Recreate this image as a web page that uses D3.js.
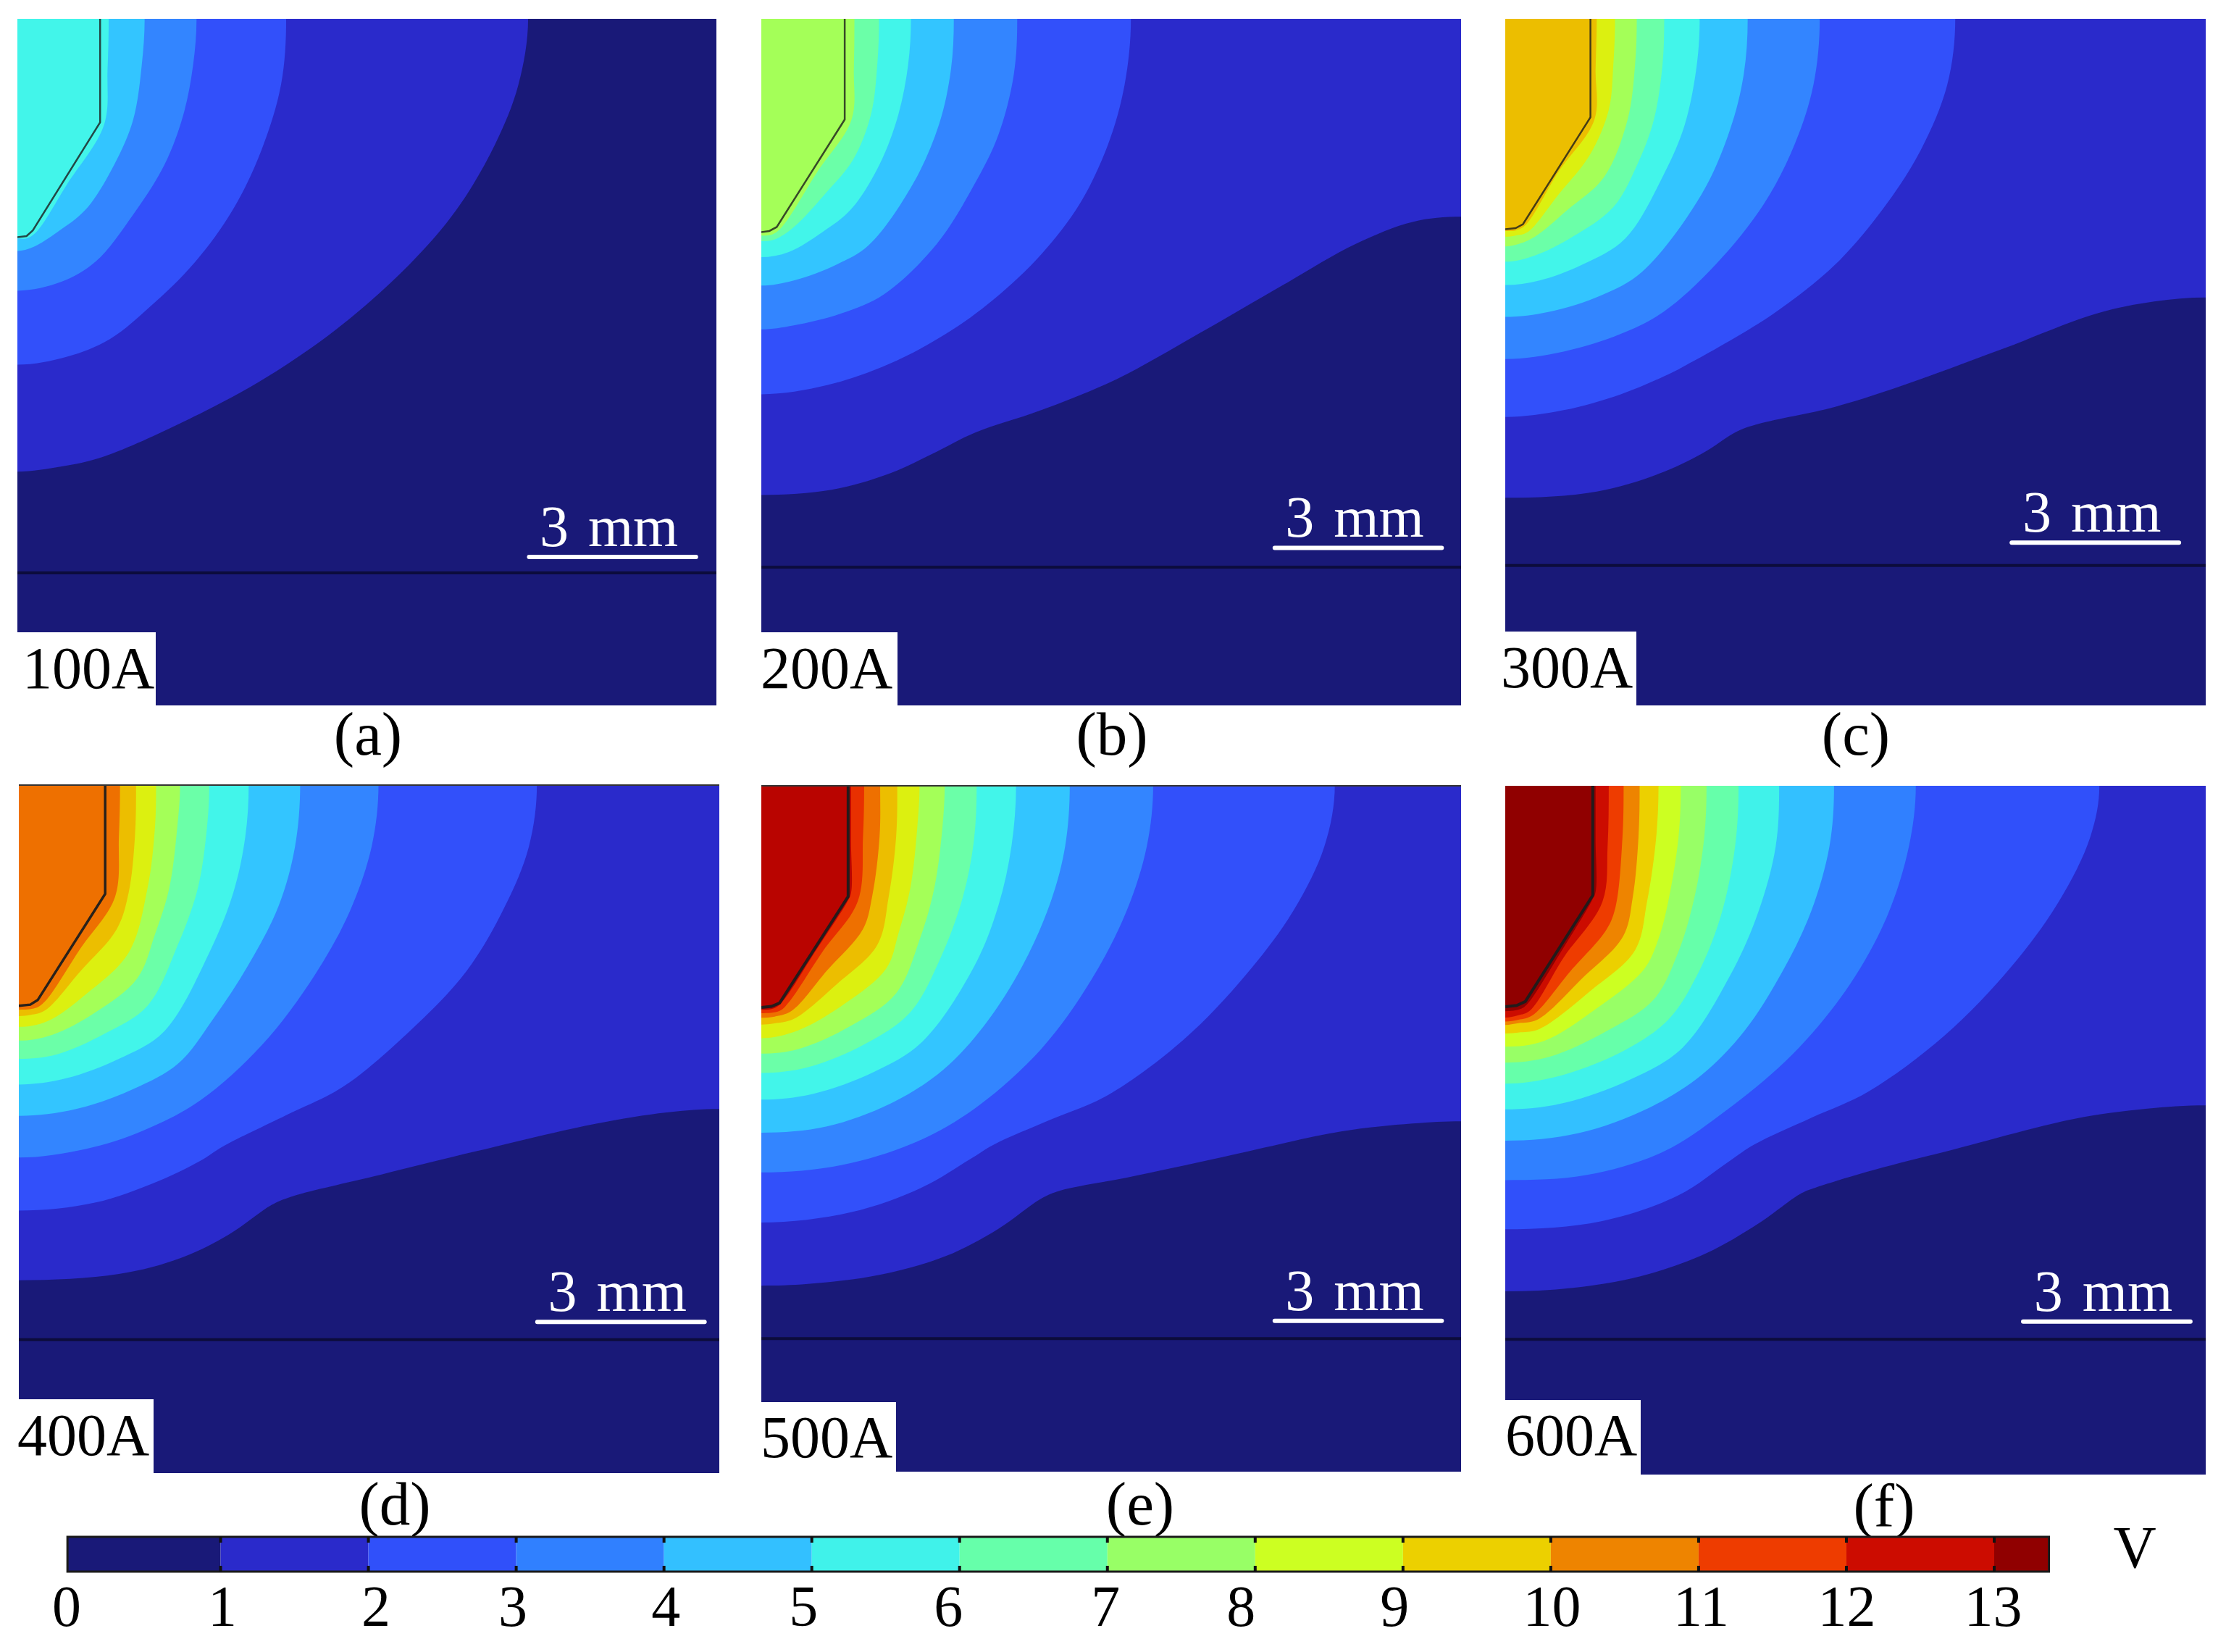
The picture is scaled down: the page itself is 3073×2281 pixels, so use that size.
<!DOCTYPE html>
<html>
<head>
<meta charset="utf-8">
<script src="https://cdnjs.cloudflare.com/ajax/libs/d3/7.8.5/d3.min.js"></script>
<style>
    body { margin: 0; background: #fff; }
    text { font-family: "Liberation Serif", serif; }
</style>
</head>
<body>
<div id="chart"></div>
<script>
// all contours in mm from the top left corner of the panel, 1 V contour first
var currents = ["100A", "200A", "300A", "400A", "500A", "600A"];
var captions = ["(a)", "(b)", "(c)", "(d)", "(e)", "(f)"];
var domainWidth = 12.25;
var domainHeight = 12.07;
var scaleBarMm = 3;
var barStartX = [8.93, 8.95, 8.82, 9.03, 8.95, 9.02];
var barDepth = [9.46, 9.30, 9.21, 9.42, 9.42, 9.39];
var interfaceDepth = [9.74, 9.64, 9.61, 9.73, 9.73, 9.70];

var electrodes = [
    [[1.45, 0], [1.45, 1.82], [0.27, 3.72], [0.16, 3.82], [0, 3.84]],
    [[1.46, 0], [1.46, 1.77], [0.27, 3.66], [0.14, 3.73], [0, 3.75]],
    [[1.49, 0], [1.49, 1.73], [0.31, 3.61], [0.18, 3.68], [0, 3.70]],
    [[1.51, 0], [1.51, 1.92], [0.33, 3.78], [0.2, 3.86], [0, 3.88]],
    [[1.52, 0], [1.52, 1.96], [0.32, 3.83], [0.18, 3.89], [0, 3.91]],
    [[1.53, 0], [1.53, 1.92], [0.35, 3.78], [0.2, 3.85], [0, 3.87]]
];

var contours100A = [
    [[8.95,0],[8.78,1.16],[8.37,2.21],[7.70,3.35],[6.87,4.32],[5.70,5.37],[4.53,6.20],[3.28,6.90],[1.53,7.69],[0.78,7.87],[0,7.96]],
    [[4.71,0],[4.62,1.16],[4.28,2.30],[3.78,3.35],[3.12,4.27],[2.37,5.02],[1.62,5.63],[0.87,5.94],[0,6.08]],
    [[3.14,0],[3.08,0.81],[2.91,1.68],[2.58,2.56],[2.03,3.44],[1.37,4.27],[0.78,4.62],[0,4.78]],
    [[2.23,0],[2.18,0.81],[2.03,1.77],[1.70,2.56],[1.20,3.35],[0.70,3.75],[0.28,4.01],[0,4.08]],
    [[1.60,0],[1.58,0.89],[1.52,1.86],[0.87,2.91],[0.33,3.75],[0.16,3.86],[0,3.86]]
];

var contours200A = [
    [[12.25,3.48],[11.40,3.57],[10.40,3.96],[9.15,4.67],[7.65,5.54],[6.23,6.33],[4.90,6.88],[3.73,7.28],[3.07,7.61],[2.23,8.00],[1.23,8.28],[0,8.37]],
    [[6.47,0],[6.36,1.16],[6.07,2.21],[5.57,3.26],[4.90,4.14],[4.07,4.93],[3.23,5.54],[2.23,6.07],[1.15,6.44],[0,6.60]],
    [[4.48,0],[4.42,0.98],[4.15,2.04],[3.73,2.91],[3.07,3.96],[2.15,4.84],[1.40,5.18],[0.57,5.39],[0,5.46]],
    [[3.37,0],[3.32,0.89],[3.11,1.86],[2.65,2.91],[1.88,3.98],[1.32,4.32],[0.57,4.60],[0,4.69]],
    [[2.62,0],[2.57,0.81],[2.40,1.68],[2.07,2.56],[1.57,3.35],[1.07,3.75],[0.48,4.10],[0,4.19]],
    [[2.06,0],[2.03,0.81],[1.92,1.68],[1.61,2.47],[1.15,3.04],[0.57,3.66],[0.23,3.88],[0,3.91]],
    [[1.63,0],[1.62,0.89],[1.58,1.77],[0.98,2.69],[0.36,3.66],[0.19,3.79],[0,3.81]]
];

var contours300A = [
    [[12.25,4.90],[11.35,4.97],[10.35,5.18],[8.68,5.81],[7.02,6.42],[5.77,6.82],[4.43,7.12],[4.06,7.25],[3.43,7.65],[2.68,8.00],[1.60,8.31],[0,8.42]],
    [[7.87,0],[7.73,1.16],[7.27,2.30],[6.60,3.35],[5.77,4.32],[4.68,5.19],[3.27,6.03],[2.85,6.25],[2.02,6.60],[1.02,6.88],[0,7.00]],
    [[5.50,0],[5.39,1.16],[5.06,2.21],[4.52,3.26],[3.68,4.32],[2.77,5.15],[2.02,5.54],[1.02,5.85],[0,5.98]],
    [[4.24,0],[4.17,0.98],[3.93,1.95],[3.43,3.09],[2.39,4.45],[1.68,4.86],[0.77,5.15],[0,5.24]],
    [[3.40,0],[3.35,0.81],[3.14,1.86],[2.77,2.74],[2.10,3.86],[1.35,4.32],[0.60,4.60],[0,4.68]],
    [[2.78,0],[2.75,0.81],[2.60,1.77],[2.31,2.56],[1.89,3.31],[1.18,3.83],[0.52,4.16],[0,4.27]],
    [[2.30,0],[2.27,0.81],[2.14,1.77],[1.73,2.78],[1.10,3.35],[0.52,3.83],[0.23,3.96],[0,4.00]],
    [[1.92,0],[1.89,0.81],[1.81,1.60],[1.48,2.39],[0.93,3.09],[0.39,3.75],[0.18,3.81],[0,3.83]],
    [[1.60,0],[1.58,0.89],[1.56,1.77],[0.93,2.69],[0.35,3.63],[0.18,3.72],[0,3.73]]
];

var contours400A = [
    [[12.25,5.69],[11.33,5.75],[10.08,5.95],[8.00,6.43],[6.33,6.84],[4.75,7.23],[4.42,7.37],[3.67,7.89],[2.83,8.30],[1.75,8.58],[0,8.69]],
    [[9.06,0],[8.92,1.09],[8.50,2.14],[7.83,3.27],[6.83,4.33],[5.67,5.30],[4.67,5.80],[3.58,6.34],[3.17,6.60],[2.42,6.96],[1.33,7.33],[0,7.47]],
    [[6.29,0],[6.17,1.09],[5.79,2.22],[5.17,3.35],[4.25,4.57],[3.17,5.54],[2.17,6.07],[1.17,6.39],[0,6.54]],
    [[4.92,0],[4.83,1.09],[4.54,2.14],[4.00,3.19],[3.42,4.08],[2.79,4.89],[2.00,5.34],[1.00,5.69],[0,5.81]],
    [[4.02,0],[3.96,0.92],[3.75,1.90],[3.33,2.95],[2.54,4.33],[1.75,4.81],[0.83,5.15],[0,5.26]],
    [[3.33,0],[3.29,0.76],[3.13,1.82],[2.79,2.79],[2.25,3.88],[1.50,4.37],[0.67,4.73],[0,4.81]],
    [[2.82,0],[2.77,0.76],[2.63,1.82],[2.38,2.63],[2.07,3.40],[1.33,4.00],[0.58,4.39],[0,4.49]],
    [[2.40,0],[2.38,0.76],[2.25,1.82],[1.92,2.95],[1.17,3.68],[0.50,4.15],[0,4.25]],
    [[2.05,0],[2.03,0.92],[1.92,1.90],[1.71,2.54],[1.08,3.27],[0.46,3.96],[0.21,4.04],[0,4.06]],
    [[1.77,0],[1.75,0.92],[1.68,1.98],[1.08,2.87],[0.46,3.80],[0.29,3.92],[0,3.95]]
];

var contours500A = [
    [[12.25,5.91],[11.40,5.95],[10.15,6.09],[8.07,6.54],[6.40,6.90],[5.23,7.13],[4.90,7.27],[4.15,7.80],[3.23,8.28],[2.07,8.61],[0.82,8.77],[0,8.80]],
    [[10.04,0],[9.86,1.07],[9.32,2.20],[8.48,3.34],[7.40,4.47],[6.07,5.45],[5.07,5.88],[4.07,6.32],[3.65,6.58],[2.82,7.07],[1.57,7.51],[0,7.69]],
    [[6.86,0],[6.75,1.07],[6.40,2.20],[5.78,3.42],[4.90,4.64],[3.73,5.69],[2.65,6.30],[1.40,6.68],[0,6.81]],
    [[5.40,0],[5.32,1.07],[5.07,2.04],[4.57,3.18],[3.90,4.23],[3.19,5.00],[2.32,5.57],[1.15,6.00],[0,6.11]],
    [[4.46,0],[4.38,1.07],[4.15,2.12],[3.73,3.18],[2.82,4.51],[1.98,5.04],[0.90,5.43],[0,5.53]],
    [[3.77,0],[3.72,0.99],[3.53,1.96],[3.15,3.01],[2.61,3.99],[1.82,4.55],[0.82,4.96],[0,5.06]],
    [[3.21,0],[3.17,0.75],[3.03,1.80],[2.78,2.69],[2.36,3.66],[1.57,4.23],[0.65,4.64],[0,4.72]],
    [[2.77,0],[2.73,0.75],[2.61,1.80],[2.40,2.61],[2.19,3.22],[1.48,3.83],[0.65,4.31],[0,4.45]],
    [[2.38,0],[2.36,0.91],[2.23,1.96],[2.03,2.81],[1.32,3.50],[0.57,4.11],[0.23,4.19],[0,4.21]],
    [[2.08,0],[2.07,0.91],[1.94,1.96],[1.78,2.53],[1.15,3.26],[0.53,3.97],[0.23,4.07],[0,4.09]],
    [[1.80,0],[1.78,0.91],[1.69,2.04],[1.07,2.93],[0.48,3.82],[0.32,3.97],[0,4.01]],
    [[1.57,0],[1.57,0.98],[1.57,1.90],[1.50,2.06],[0.96,2.90],[0.36,3.82],[0.23,3.92],[0,3.95]]
];

var contours600A = [
    [[12.25,5.60],[11.20,5.66],[9.93,5.84],[7.85,6.37],[6.60,6.69],[5.43,7.04],[5.18,7.14],[4.43,7.67],[3.52,8.19],[2.35,8.60],[1.18,8.80],[0,8.86]],
    [[10.39,0],[10.23,0.90],[9.68,2.03],[8.85,3.17],[7.68,4.38],[6.35,5.36],[5.35,5.82],[4.35,6.29],[3.93,6.57],[3.02,7.18],[1.68,7.63],[0,7.77]],
    [[7.18,0],[7.06,1.06],[6.68,2.28],[6.02,3.49],[5.02,4.71],[3.77,5.76],[2.77,6.41],[1.43,6.82],[0,6.91]],
    [[5.75,0],[5.67,1.06],[5.35,2.20],[4.85,3.25],[4.18,4.30],[3.43,5.07],[2.52,5.64],[1.27,6.09],[0,6.22]],
    [[4.79,0],[4.73,1.06],[4.43,2.20],[3.93,3.33],[3.10,4.59],[2.18,5.15],[1.02,5.56],[0,5.67]],
    [[4.08,0],[4.02,1.06],[3.77,2.28],[3.35,3.33],[2.85,4.10],[2.02,4.67],[0.85,5.11],[0,5.22]],
    [[3.52,0],[3.48,0.90],[3.31,1.95],[3.02,2.93],[2.60,3.74],[1.77,4.30],[0.77,4.75],[0,4.85]],
    [[3.07,0],[3.03,0.90],[2.85,2.03],[2.68,2.68],[2.43,3.21],[1.60,3.90],[0.68,4.47],[0,4.57]],
    [[2.68,0],[2.64,0.90],[2.48,2.03],[2.27,2.88],[1.52,3.57],[0.60,4.26],[0.27,4.32],[0,4.34]],
    [[2.35,0],[2.33,0.90],[2.23,1.95],[2.06,2.64],[1.35,3.37],[0.56,4.10],[0.23,4.16],[0,4.19]],
    [[2.07,0],[2.05,0.90],[1.93,2.12],[1.77,2.52],[1.14,3.25],[0.48,4.02],[0.23,4.10],[0,4.13]],
    [[1.81,0],[1.79,1.06],[1.70,2.03],[1.02,3.01],[0.43,3.94],[0.23,4.02],[0,4.06]],
    [[1.58,0],[1.58,0.95],[1.58,1.86],[1.51,2.02],[0.98,2.90],[0.39,3.82],[0.27,3.91],[0,3.95]]
];

var allContours = [contours100A, contours200A, contours300A, contours400A, contours500A, contours600A];

// colorbar
var barTicks = [0, 1, 2, 3, 4, 5, 6, 7, 8, 9, 10, 11, 12, 13];
var barMin = -0.036;
var barMax = 13.37;
var barUnit = "V";

var barColors = ["#191978", "#2a2acb", "#3050fa", "#3080ff", "#33c0ff", "#40f2ea", "#66ffaa",
    "#98ff66", "#ccff22", "#ecd000", "#ee8400", "#ee3c00", "#cc0c00", "#900000"];
var mapColors = ["#191978", "#2a2acb", "#3250fa", "#3385ff", "#33c5ff", "#42f5ea", "#6bffa8",
    "#a4ff58", "#dcf010", "#ecbe00", "#ee7000", "#e83000", "#b90400", "#8f0000"];

// where each panel sits in the page
var panelBoxes = [
    {x0: 24, x1: 989, y0: 26, y1: 974, labelW: 191, labelH: 101, labelX: 31, labelY: 950, capX: 508, capY: 1040},
    {x0: 1051, x1: 2017, y0: 26, y1: 974, labelW: 188, labelH: 101, labelX: 1050, labelY: 950, capX: 1535, capY: 1040},
    {x0: 2078, x1: 3045, y0: 26, y1: 974, labelW: 181, labelH: 102, labelX: 2072, labelY: 949, capX: 2562, capY: 1040},
    {x0: 26, x1: 993, y0: 1083, y1: 2034, labelW: 186, labelH: 102, labelX: 24, labelY: 2009, capX: 545, capY: 2103},
    {x0: 1051, x1: 2017, y0: 1084, y1: 2032, labelW: 186, labelH: 96, labelX: 1050, labelY: 2012, capX: 1574, capY: 2103},
    {x0: 2078, x1: 3045, y0: 1085, y1: 2036, labelW: 187, labelH: 103, labelX: 2078, labelY: 2009, capX: 2601, capY: 2105}
];
var barTop = 2122;
var barBottom = 2170;
var labelShift = [-9, 2, 10, -5, 2, -12, -16, -3, -20, -12, 1, 3, 0, -2];

var svg = d3.select("#chart").append("svg")
    .attr("width", 3073)
    .attr("height", 2281)
    .style("display", "block");

// mirror the contour over the panel edges so it meets them square, the clip cuts the extra off
var mirrored = function(d) {
    var first = d[0][0] == domainWidth ? [2 * domainWidth - d[1][0], d[1][1]] : [d[1][0], -d[1][1]];
    var n = d.length;
    var last = [-d[n - 2][0], d[n - 2][1]];
    return [first].concat(d, [last]);
};

var drawPanel = function(box, i) {
    var x = d3.scaleLinear().domain([0, domainWidth]).range([box.x0, box.x1]);
    var y = d3.scaleLinear().domain([0, domainHeight]).range([box.y0, box.y1]);
    var colors = i == 5 ? barColors : mapColors;

    var line = d3.line()
        .x(function(d) { return x(d[0]); })
        .y(function(d) { return y(d[1]); })
        .curve(d3.curveCatmullRom.alpha(0.5));

    var clipId = "clip" + i;
    svg.append("clipPath").attr("id", clipId).append("rect")
        .attr("x", box.x0)
        .attr("y", box.y0)
        .attr("width", box.x1 - box.x0)
        .attr("height", box.y1 - box.y0);

    var g = svg.append("g").attr("clip-path", "url(#" + clipId + ")");

    g.append("rect")
        .attr("x", box.x0)
        .attr("y", box.y0)
        .attr("width", box.x1 - box.x0)
        .attr("height", box.y1 - box.y0)
        .attr("fill", colors[0]);

    // biggest region first, each next one paints over it
    g.selectAll("path.band")
        .data(allContours[i])
        .enter()
        .append("path")
        .attr("class", "band")
        .attr("fill", function(d, k) { return colors[k + 1]; })
        .attr("d", function(d) {
            var m = mirrored(d);
            var outX = x(-2);
            var outY = y(-2);
            return line(m) + "L" + outX + "," + y(m[m.length - 1][1]) + "L" + outX + "," + outY +
                "L" + x(m[0][0]) + "," + outY + "Z";
        });

    // electrode outline
    g.append("path")
        .attr("fill", "none")
        .attr("stroke", "#1c1c1c")
        .attr("stroke-opacity", i < 3 ? 0.8 : 0.95)
        .attr("stroke-width", i < 3 ? 2.5 : (i == 3 ? 3.5 : 4))
        .attr("d", d3.line().x(function(d) { return x(d[0]); }).y(function(d) { return y(d[1]); })(electrodes[i]));

    // interface between the layers
    g.append("line")
        .attr("x1", box.x0)
        .attr("x2", box.x1)
        .attr("y1", y(interfaceDepth[i]))
        .attr("y2", y(interfaceDepth[i]))
        .attr("stroke", "#0c0c3c")
        .attr("stroke-width", 4);

    if (i > 2 && i < 5) {
        g.append("line")
            .attr("x1", box.x0)
            .attr("x2", box.x1)
            .attr("y1", box.y0 + 1)
            .attr("y2", box.y0 + 1)
            .attr("stroke", "#333")
            .attr("stroke-width", 2);
    }

    // scale bar
    svg.append("line")
        .attr("x1", x(barStartX[i]) + 3)
        .attr("x2", x(barStartX[i] + scaleBarMm) - 3)
        .attr("y1", y(barDepth[i]))
        .attr("y2", y(barDepth[i]))
        .attr("stroke", "#fff")
        .attr("stroke-width", 6)
        .attr("stroke-linecap", "round");

    svg.append("text")
        .attr("x", x(barStartX[i] + scaleBarMm / 2) - 5)
        .attr("y", y(barDepth[i]) - 15)
        .attr("text-anchor", "middle")
        .attr("font-size", 80)
        .attr("word-spacing", 7)
        .attr("fill", "#fff")
        .text("3 mm");

    // current label on white
    svg.append("rect")
        .attr("x", box.x0)
        .attr("y", box.y1 - box.labelH)
        .attr("width", box.labelW)
        .attr("height", box.labelH + 1)
        .attr("fill", "#fff");

    svg.append("text")
        .attr("x", box.labelX)
        .attr("y", box.labelY)
        .attr("font-size", 82)
        .attr("fill", "#000")
        .text(currents[i]);

    svg.append("text")
        .attr("x", box.capX)
        .attr("y", box.capY + 2)
        .attr("text-anchor", "middle")
        .attr("font-size", 85)
        .attr("fill", "#000")
        .text(captions[i]);
};

panelBoxes.forEach(drawPanel);

// colorbar
var c = d3.scaleLinear().domain([0, 13]).range([100.5, 2753]);

var levels = barTicks.map(function(t, k) {
    return {from: k == 0 ? barMin : t, to: k == barTicks.length - 1 ? barMax : t + 1, color: barColors[k]};
});

svg.selectAll("rect.level")
    .data(levels)
    .enter()
    .append("rect")
    .attr("class", "level")
    .attr("x", function(d) { return c(d.from); })
    .attr("y", barTop)
    .attr("width", function(d) { return c(d.to) - c(d.from); })
    .attr("height", barBottom - barTop)
    .attr("fill", function(d) { return d.color; });

svg.append("rect")
    .attr("x", c(barMin))
    .attr("y", barTop)
    .attr("width", c(barMax) - c(barMin))
    .attr("height", barBottom - barTop)
    .attr("fill", "none")
    .attr("stroke", "#1a1a1a")
    .attr("stroke-width", 3);

barTicks.slice(1).forEach(function(t) {
    [[barTop, barTop + 8], [barBottom - 8, barBottom]].forEach(function(s) {
        svg.append("line")
            .attr("x1", c(t))
            .attr("x2", c(t))
            .attr("y1", s[0])
            .attr("y2", s[1])
            .attr("stroke", "#111")
            .attr("stroke-width", 4);
    });
});

var axis = d3.axisBottom(c).tickValues(barTicks).tickSize(0).tickPadding(0).tickFormat(d3.format("d"));

var axisG = svg.append("g")
    .attr("transform", "translate(0," + 2245 + ")")
    .call(axis);
axisG.select(".domain").remove();
axisG.selectAll("text")
    .attr("y", 0)
    .attr("dy", 0)
    .attr("dx", function(d, k) { return labelShift[k]; })
    .attr("font-size", 80)
    .attr("font-family", "Liberation Serif")
    .attr("fill", "#000");

svg.append("text")
    .attr("x", 2947)
    .attr("y", 2164)
    .attr("text-anchor", "middle")
    .attr("font-size", 82)
    .attr("fill", "#000")
    .text(barUnit);
</script>
</body>
</html>
